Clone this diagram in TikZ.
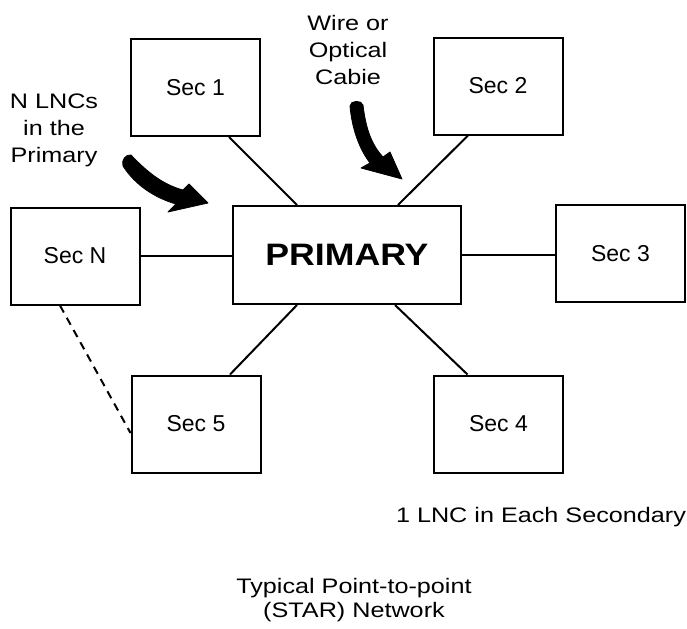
\documentclass[tikz,border=0pt]{standalone}
\usepackage{fontspec}
\setmainfont{Liberation Sans}
\newfontfamily\notefont{Liberation Sans}[FakeStretch=1.2]
\newfontfamily\primfont{Liberation Sans}[FakeStretch=1.15]

\tikzset{
  secbox/.style={draw, line width=1pt, minimum width=64.5pt, minimum height=48.5pt,
    inner sep=0pt, font=\fontsize{11.5}{14}\selectfont},
  primbox/.style={secbox, minimum width=114pt, minimum height=49pt,
    font=\primfont\bfseries\fontsize{15.5}{18}\selectfont},
  note/.style={align=center, inner sep=0pt, font=\notefont\fontsize{10.5}{13.5}\selectfont},
  link/.style={line width=1pt},
  pointer/.style={fill=black, draw=black, line width=0.4pt, line join=round}
}

\begin{document}
\begin{tikzpicture}[x=0.5pt,y=-0.5pt]
            \useasboundingbox (0,0) rectangle (687,628);

            \node[primbox] (prim) at (347,255) {PRIMARY};
            \node[secbox] (sec1) at (195.5,87.5) {Sec 1};
            \node[secbox] (sec2) at (498,86) {Sec 2};
            \node[secbox] (sec3) at (620.5,253.5) {Sec 3};
            \node[secbox] (sec4) at (498.5,424) {Sec 4};
            \node[secbox] (sec5) at (196,424) {Sec 5};
            \node[secbox] (secN) at (75,256) {Sec N};

            % spokes of the star
            \draw[link] ([xshift=16.75pt]sec1.south) -- ([xshift=-25pt]prim.north);
            \draw[link] ([xshift=-15pt]sec2.south) -- ([xshift=25.5pt]prim.north);
            \draw[link] (secN.east) -- (secN.east -| prim.west);
            \draw[link] (prim.east) -- (prim.east -| sec3.west);
            \draw[link] ([xshift=24pt]prim.south) -- ([xshift=-15.5pt]sec4.north);
            \draw[link] ([xshift=-25pt]prim.south) -- ([xshift=17pt]sec5.north);
            \draw[link, dash pattern=on 4pt off 3pt] ([xshift=-7.5pt]secN.south) -- ([yshift=-4.5pt]sec5.west);

            \node[note] (lncs) at (54,130) {N LNCs\\in the\\Primary};
            \node[note] (wire) at (348,50) {Wire or\\Optical\\Cabie};
            \node[note] (each) at (541,517) {1 LNC in Each Secondary};
            \node[note, font=\notefont\fontsize{10.5}{12}\selectfont] (title) at (354,600) {Typical Point-to-point\\(STAR) Network};

            % fat pointers
            \fill[pointer] (131,155) .. controls (150,175) and (165,185) .. (183,190)
              -- (189,184) -- (208,203) -- (168,212) -- (176,204)
              .. controls (155,198) and (135,185) .. (123,166)
              .. controls (121,160) and (126,154) .. (131,155) -- cycle;
            \fill[pointer] (350,106) .. controls (350,100) and (362,100) .. (363,105)
              .. controls (366,130) and (372,145) .. (383,157)
              -- (390,152) -- (402,179) -- (361,168) -- (370,163)
              .. controls (360,150) and (352,130) .. (350,106) -- cycle;
        \end{tikzpicture}
\end{document}
